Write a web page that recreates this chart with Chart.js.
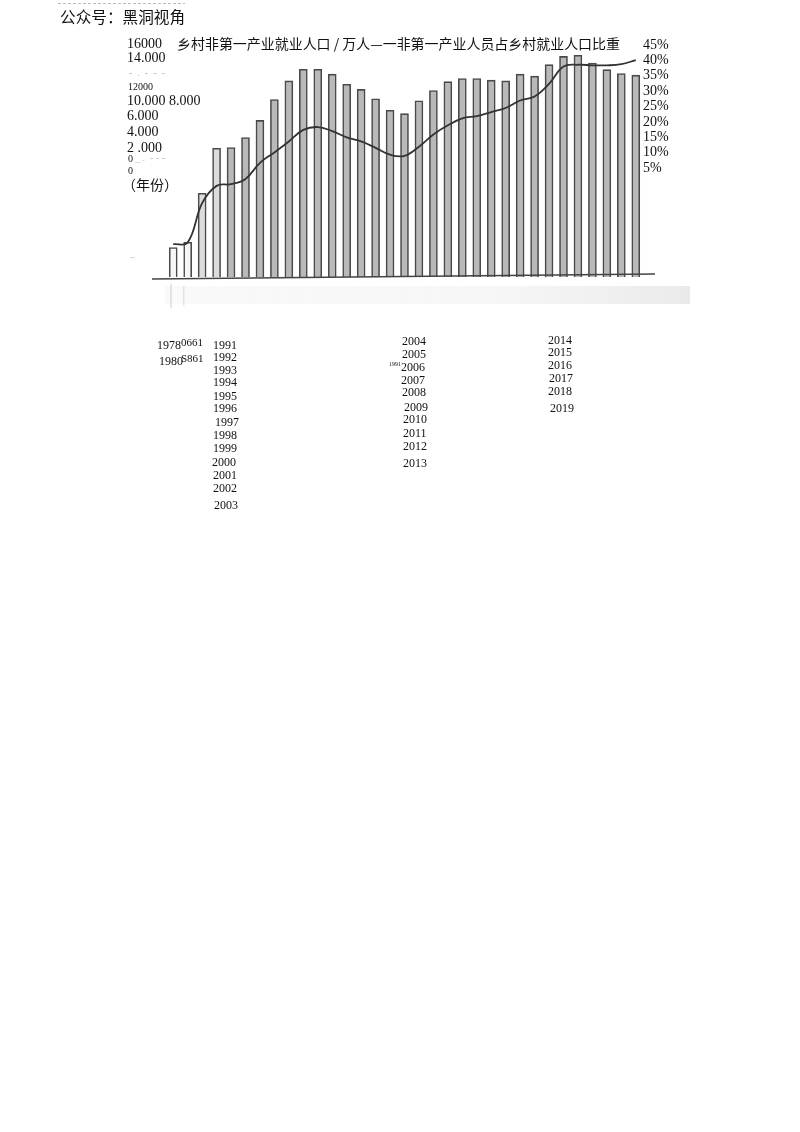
<!DOCTYPE html>
<html>
<head>
<meta charset="utf-8">
<script src="https://cdn.jsdelivr.net/npm/chart.js@4/dist/chart.umd.min.js"></script>
<style>
  html, body { margin: 0; padding: 0; background: #fff; }
  #wrap { position: relative; width: 800px; height: 1132px; }
  canvas { position: absolute; left: 0; top: 0; }
</style>
</head>
<body>
<div id="wrap">
  <canvas id="ruralChart" width="800" height="530"></canvas>
</div>
<script>
// categories
const years = ['1978', '1980', '1985', '1990', '1991', '1992', '1993', '1994', '1995', '1996',
  '1997', '1998', '1999', '2000', '2001', '2002', '2003', '2004', '2005', '2006', '2007',
  '2008', '2009', '2010', '2011', '2012', '2013', '2014', '2015', '2016', '2017', '2018', '2019'];

// 乡村非第一产业就业人口 / 万人
const employment = [1900, 2250, 5400, 8300, 8350, 9000, 10100, 11450, 12650, 13400,
  13400, 13090, 12430, 12100, 11500, 10760, 10540, 11370, 12030, 12600, 12800,
  12800, 12700, 12650, 13090, 12960, 13700, 14230, 14300, 13800, 13380, 13130, 13020];

// 非第一产业人员占乡村就业人口比重 / %
const sharePct = [6.9, 7.2, 14.0, 17.0, 17.3, 18.2, 21.0, 22.8, 24.7, 26.7,
  27.2, 26.5, 25.4, 24.7, 23.6, 22.4, 22.2, 23.8, 25.9, 27.5, 28.7,
  29.1, 29.8, 30.5, 31.8, 32.5, 34.7, 37.7, 38.0, 37.9, 37.9, 38.1, 38.8];

// tick labels as printed (the scan jumbled them)
const leftTicks = ['16000', '14.000', '12000', '10.000 8.000', '6.000', '4.000', '2 .000', '0', '0'];
const rightTicks = ['45%', '40%', '35%', '30%', '25%', '20%', '15%', '10%', '5%'];
const yearTickText = ['1978', '1980', 'S861', '0661'];

const titleText = '乡村非第一产业就业人口 / 万人—一非第一产业人员占乡村就业人口比重';
const axisUnit = '（年份）';
const watermark = '公众号：黑洞视角';

const SERIF = '"Liberation Serif", "DejaVu Serif", serif';
const CJK = '"Noto Sans CJK SC", sans-serif';

function fitText(ctx, text, x, y, w) {
  const m = ctx.measureText(text).width;
  ctx.save();
  ctx.translate(x, y);
  ctx.scale(w / m, 1);
  ctx.fillText(text, 0, 0);
  ctx.restore();
}

const barFill = years.map((y, i) => i < 2 ? '#f6f6f6' : (i < 4 ? '#dcdcdc' : '#b9b9b9'));

const paperPlugin = {
  id: 'paper',
  beforeDraw(chart) {
    const ctx = chart.ctx;
    ctx.save();
    // faint scanned smear under the axis
    const g = ctx.createLinearGradient(150, 0, 690, 0);
    g.addColorStop(0, 'rgba(210,210,210,0.12)');
    g.addColorStop(0.6, 'rgba(210,210,210,0.18)');
    g.addColorStop(1, 'rgba(195,195,195,0.35)');
    ctx.fillStyle = g;
    ctx.fillRect(165, 286, 525, 18);
    ctx.fillStyle = 'rgba(160,160,160,0.25)';
    ctx.fillRect(170, 284, 2, 24);
    ctx.fillRect(183, 286, 1.5, 20);
    ctx.restore();
  },
  afterDraw(chart) {
    const ctx = chart.ctx;
    ctx.save();

    // base line
    ctx.strokeStyle = '#444';
    ctx.lineWidth = 1.6;
    ctx.beginPath();
    ctx.moveTo(152, 279);
    ctx.lineTo(655, 274);
    ctx.stroke();

    ctx.fillStyle = '#111';
    ctx.textBaseline = 'middle';
    ctx.textAlign = 'left';

    // title
    ctx.font = '14px ' + CJK;
    fitText(ctx, titleText, 177, 44, 443);

    // left labels
    const leftSpots = [[127, 44, 14], [127, 58, 14], [128, 87, 10], [127, 101, 14], [127, 116, 14],
      [127, 132, 14], [127, 148, 14], [128, 159, 10], [128, 171, 10]];
    leftTicks.forEach((t, i) => {
      const [x, y, s] = leftSpots[i];
      ctx.font = s + 'px ' + SERIF;
      ctx.fillText(t, x, y);
    });
    ctx.fillStyle = '#bbb';
    ctx.font = '10px ' + SERIF;
    ctx.fillText('-  .  -  -  -', 129, 73);
    ctx.fillText('_ .  - - -', 135, 158);
    ctx.fillText('–', 130, 257);
    ctx.fillStyle = '#111';
    ctx.font = '14px ' + CJK;
    ctx.fillText(axisUnit, 122, 185);

    // right labels
    ctx.font = '14px ' + SERIF;
    rightTicks.forEach((t, i) => ctx.fillText(t, 643, 45 + i * 15.4));

    // year labels below, scattered as in the scan
    ctx.font = '12px ' + SERIF;
    ctx.fillText(yearTickText[0], 157, 346);
    ctx.fillText(yearTickText[1], 159, 362);
    ctx.font = '11px ' + SERIF;
    ctx.fillText(yearTickText[3], 181, 343);
    ctx.fillText(yearTickText[2], 181, 359);
    ctx.font = '12px ' + SERIF;
    const colA = [346, 358, 371, 383, 397, 409, 423, 436, 449, 463, 476, 489, 506];
    const colAx = [213, 213, 213, 213, 213, 213, 215, 213, 213, 212, 213, 213, 214];
    const colB = [342, 355, 368, 381, 393, 408, 420, 434, 447, 464];
    const colBx = [402, 402, 401, 401, 402, 404, 403, 403, 403, 403];
    const colC = [341, 353, 366, 379, 392, 409];
    const colCx = [548, 548, 548, 549, 548, 550];
    years.slice(4, 17).forEach((y, i) => ctx.fillText(y, colAx[i], colA[i]));
    years.slice(17, 27).forEach((y, i) => ctx.fillText(y, colBx[i], colB[i]));
    years.slice(27).forEach((y, i) => ctx.fillText(y, colCx[i], colC[i]));
    ctx.font = '6px ' + SERIF;
    ctx.fillText(years[4], 389, 364);

    // watermark
    ctx.font = '16px ' + CJK;
    fitText(ctx, watermark, 60, 17, 125);
    ctx.strokeStyle = '#bbb';
    ctx.lineWidth = 1;
    ctx.setLineDash([3, 2]);
    ctx.beginPath();
    ctx.moveTo(58, 3.5);
    ctx.lineTo(185, 3.5);
    ctx.stroke();
    ctx.setLineDash([]);

    ctx.restore();
  }
};

new Chart(document.getElementById('ruralChart').getContext('2d'), {
  type: 'bar',
  data: {
    labels: years,
    datasets: [
      {
        type: 'line',
        label: '非第一产业人员占乡村就业人口比重',
        data: sharePct,
        yAxisID: 'y1',
        borderColor: '#333',
        borderWidth: 1.8,
        pointRadius: 0,
        tension: 0.4,
        fill: false,
        order: 0
      },
      {
        label: '乡村非第一产业就业人口 / 万人',
        data: employment,
        yAxisID: 'y',
        backgroundColor: barFill,
        borderColor: '#4a4a4a',
        borderWidth: 1.6,
        barThickness: 8,
        order: 1
      }
    ]
  },
  options: {
    responsive: false,
    animation: false,
    devicePixelRatio: 1,
    layout: { padding: { left: 166, right: 157, top: 29, bottom: 253 } },
    plugins: { legend: { display: false }, tooltip: { enabled: false } },
    scales: {
      x: { display: false, offset: true },
      y: { display: false, min: 0, max: 16000 },
      y1: { display: false, position: 'right', min: 1.2, max: 44.2 }
    }
  },
  plugins: [paperPlugin]
});
</script>
</body>
</html>
